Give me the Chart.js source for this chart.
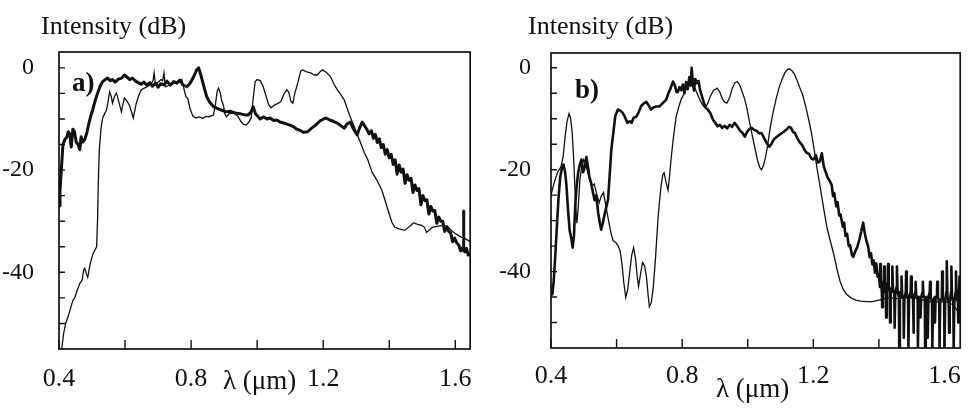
<!DOCTYPE html>
<html>
<head>
<meta charset="utf-8">
<script src="https://cdn.jsdelivr.net/npm/chart.js@4.4.0/dist/chart.umd.min.js"></script>
<style>
  body { margin: 0; background: #fff; width: 974px; height: 411px; overflow: hidden; position: relative; }
  canvas { position: absolute; top: 0; }
  .txt { position: absolute; font-family: 'Liberation Serif', 'DejaVu Serif', serif; color: #111; white-space: nowrap; line-height: 1; }
  .lbl { font-size: 26px; }
  .unit { font-size: 27px; }
  .tag { font-size: 27px; font-weight: bold; }
</style>
</head>
<body>
<canvas id="chartA" width="487" height="411" style="left:0"></canvas>
<canvas id="chartB" width="487" height="411" style="left:487px"></canvas>

<div class="txt lbl" style="left:41px; top:13px">Intensity (dB)</div>
<div class="txt lbl" style="left:528px; top:13px">Intensity (dB)</div>
<div class="txt unit" style="left:223px; top:367px">λ (μm)</div>
<div class="txt unit" style="left:716px; top:375px">λ (μm)</div>
<div class="txt tag" style="left:72px; top:69px">a)</div>
<div class="txt tag" style="left:575px; top:76px">b)</div>

<script>
// axis ticks (wavelength in um, intensity in dB)
const xTickValues = [0.4, 0.6, 0.8, 1.0, 1.2, 1.4, 1.6];
const xTickLabels = [0.4, 0.8, 1.2, 1.6];
const yTickValues = [-50, -45, -40, -35, -30, -25, -20, -15, -10, -5, 0];
const yTickLabels = [0, -20, -40];

// panel a) measured spectrum (thick, noisy)
const aThick = [
  [0.400,-27],[0.403,-24],[0.407,-20],[0.412,-15],[0.418,-14],[0.424,-13.5],[0.428,-12.5],[0.433,-13],
  [0.437,-15.5],[0.442,-12],[0.447,-12.5],[0.452,-14.5],[0.458,-15],[0.463,-16],[0.467,-13.5],[0.472,-14.5],
  [0.478,-14],[0.484,-12.8],[0.490,-11],[0.496,-9.5],[0.502,-8.2],[0.510,-6.3],[0.517,-4.9],[0.525,-3.5],
  [0.532,-2.7],[0.540,-2.3],[0.547,-2.0],[0.555,-2.5],[0.562,-2.3],[0.570,-2.8],[0.580,-2.2],[0.590,-2.0],
  [0.598,-1.4],[0.606,-1.8],[0.614,-2.3],[0.622,-2.0],[0.632,-2.6],[0.640,-2.9],[0.649,-3.2],[0.657,-2.8],
  [0.666,-3.4],[0.675,-2.9],[0.683,-3.6],[0.692,-3.0],[0.700,-3.8],[0.708,-3.1],[0.718,-3.3],[0.727,-2.6],
  [0.737,-3.4],[0.747,-2.7],[0.757,-3.0],[0.766,-2.4],[0.775,-3.3],[0.787,-3.7],[0.797,-3.0],[0.808,-1.7],
  [0.817,-0.4],[0.823,0],[0.830,-1.5],[0.838,-3.5],[0.847,-5.6],[0.857,-6.8],[0.868,-7.6],[0.878,-7.9],
  [0.889,-8.2],[0.898,-8.4],[0.907,-8.6],[0.920,-8.5],[0.937,-8.9],[0.950,-9.0],[0.963,-9.2],[0.973,-9.2],
  [0.982,-8.6],[0.988,-7.6],[0.995,-9.0],[1.009,-10.0],[1.020,-9.6],[1.030,-10.0],[1.039,-9.8],[1.050,-10.3],
  [1.060,-10.2],[1.069,-10.6],[1.080,-10.8],[1.090,-11.0],[1.099,-11.2],[1.110,-11.5],[1.120,-12.0],[1.129,-12.2],
  [1.140,-12.6],[1.153,-12.5],[1.165,-11.8],[1.177,-11.2],[1.190,-10.4],[1.207,-9.8],[1.220,-10.2],[1.232,-10.5],
  [1.243,-10.8],[1.255,-11.4],[1.264,-11.8],[1.272,-11.0],[1.282,-10.6],[1.292,-12.0],[1.303,-13.1],[1.310,-11.8],
  [1.318,-10.6],[1.325,-11.3],[1.332,-12.0],[1.339,-12.9],[1.346,-12.3],[1.352,-13.8],[1.358,-13.0],[1.364,-14.6],
  [1.370,-13.9],[1.376,-15.6],[1.382,-15.0],[1.388,-16.9],[1.394,-16.0],[1.400,-17.6],[1.406,-16.9],[1.412,-18.9],
  [1.418,-18.0],[1.424,-20.8],[1.430,-19.0],[1.436,-20.4],[1.442,-19.8],[1.448,-22.6],[1.454,-20.9],[1.460,-22.0],
  [1.466,-21.6],[1.472,-24.4],[1.478,-22.9],[1.484,-24.0],[1.490,-23.6],[1.496,-26.8],[1.502,-25.0],[1.508,-26.0],
  [1.514,-25.8],[1.520,-28.6],[1.526,-27.1],[1.532,-28.0],[1.538,-27.9],[1.544,-30.4],[1.550,-29.2],[1.556,-30.0],
  [1.562,-30.0],[1.568,-32.0],[1.574,-31.2],[1.580,-32.0],[1.586,-32.3],[1.592,-34.0],[1.598,-33.3],[1.604,-34.2],
  [1.610,-34.6],[1.616,-35.8],[1.622,-35.2],[1.624,-35.6],[1.625,-28.0],[1.626,-35.8],[1.629,-36.0],[1.634,-35.3],
  [1.639,-36.6],[1.645,-36.4]
];

// panel a) calculated spectrum (thin)
const aThin = [
  [0.408,-55],[0.414,-52],[0.420,-50],[0.427,-48.8],[0.435,-47],[0.442,-45.5],[0.448,-44.9],[0.455,-43.5],
  [0.463,-42.2],[0.470,-41.5],[0.475,-39.5],[0.478,-39.2],[0.484,-40.5],[0.487,-41],[0.494,-38.5],[0.502,-36.5],
  [0.510,-35.5],[0.514,-35],[0.517,-29.2],[0.519,-22.5],[0.522,-16.1],[0.527,-12],[0.532,-9.8],[0.538,-9],
  [0.544,-8.2],[0.549,-6.5],[0.553,-4.7],[0.558,-5.5],[0.562,-6.9],[0.568,-5.6],[0.574,-4.9],[0.581,-6.6],
  [0.589,-8.6],[0.594,-7],[0.598,-5.9],[0.606,-6.5],[0.613,-7.3],[0.619,-8.5],[0.625,-9.8],[0.630,-8.2],
  [0.634,-6.9],[0.641,-5.5],[0.649,-4.3],[0.657,-4.0],[0.667,-3.7],[0.678,-3.2],[0.685,-2.5],[0.688,-1.0],
  [0.692,-3.2],[0.700,-2.8],[0.709,-2.3],[0.714,-2.5],[0.718,-1.0],[0.722,-3.7],[0.733,-3.4],[0.748,-3.0],
  [0.760,-2.6],[0.772,-2.3],[0.778,-4.0],[0.784,-5.6],[0.790,-6.0],[0.797,-8.0],[0.805,-9.4],[0.814,-9.8],
  [0.825,-9.6],[0.835,-9.9],[0.845,-9.5],[0.853,-9.6],[0.862,-9.4],[0.868,-9.2],[0.874,-7.0],[0.879,-4.6],
  [0.883,-4.0],[0.888,-4.8],[0.893,-6.5],[0.898,-7.3],[0.902,-9.0],[0.907,-9.6],[0.915,-9.0],[0.928,-8.8],
  [0.942,-9.5],[0.952,-10.6],[0.958,-11.0],[0.967,-11.2],[0.975,-10.6],[0.982,-9.8],[0.988,-6.0],[0.994,-2.7],
  [1.000,-2.3],[1.009,-2.5],[1.018,-3.6],[1.027,-5.5],[1.035,-7.2],[1.042,-7.8],[1.052,-7.3],[1.062,-7.0],
  [1.072,-6.6],[1.082,-5.0],[1.090,-4.3],[1.096,-4.8],[1.102,-6.5],[1.108,-6.9],[1.114,-5.0],[1.123,-3.0],
  [1.132,-0.6],[1.138,-0.4],[1.150,-0.8],[1.162,-1.0],[1.173,-1.4],[1.183,-1.4],[1.190,-0.8],[1.198,-0.4],
  [1.210,-0.9],[1.222,-1.7],[1.233,-3.2],[1.243,-4.3],[1.254,-5.3],[1.264,-6.3],[1.273,-8.0],[1.282,-9.6],
  [1.292,-11.2],[1.303,-13.0],[1.314,-14.8],[1.324,-16.5],[1.335,-18.0],[1.348,-20.4],[1.363,-22.0],[1.378,-24.0],
  [1.390,-26.5],[1.399,-28.4],[1.408,-30.2],[1.417,-31.2],[1.430,-31.5],[1.447,-31.8],[1.462,-31.0],[1.474,-30.3],
  [1.486,-30.6],[1.498,-30.8],[1.507,-31.2],[1.513,-32.2],[1.520,-31.8],[1.530,-31.2],[1.545,-31.0],[1.560,-30.8],
  [1.575,-30.9],[1.588,-31.8],[1.600,-32.4],[1.618,-33.1],[1.630,-33.4],[1.645,-34]
];

// panel b) measured spectrum (thick, noisy tail with narrow spikes)
const bThick = [
  [0.400,-43],[0.404,-44.5],[0.408,-42],[0.413,-37],[0.418,-31],[0.423,-25.5],[0.428,-21.5],[0.433,-19.8],
  [0.438,-19.0],[0.443,-20.5],[0.447,-23],[0.452,-28],[0.457,-32],[0.462,-33.5],[0.466,-35.3],[0.470,-33],
  [0.474,-27],[0.478,-23.3],[0.483,-20.5],[0.488,-19],[0.493,-18],[0.498,-20.5],[0.503,-19.5],[0.508,-17.5],
  [0.513,-19.5],[0.517,-21.4],[0.522,-22.5],[0.528,-24.5],[0.533,-26],[0.538,-25],[0.544,-28.5],[0.549,-30.5],
  [0.553,-31.8],[0.558,-30.5],[0.562,-29.2],[0.568,-27.5],[0.574,-25.9],[0.579,-21],[0.584,-16],[0.590,-12.8],
  [0.596,-9.5],[0.604,-8.2],[0.611,-8.4],[0.618,-8.8],[0.625,-9.6],[0.633,-10.8],[0.640,-10.5],[0.646,-10.8],
  [0.652,-9.8],[0.660,-9.6],[0.667,-8.8],[0.675,-7.5],[0.683,-7.0],[0.691,-6.7],[0.698,-7.4],[0.705,-8.2],
  [0.712,-7.8],[0.720,-7.6],[0.730,-7.6],[0.740,-7.0],[0.751,-6.3],[0.758,-5.0],[0.765,-4.0],[0.772,-2.7],
  [0.778,-3.5],[0.783,-4.8],[0.787,-4.7],[0.792,-3.8],[0.797,-4.4],[0.802,-3.3],[0.807,-5.0],[0.812,-2.8],
  [0.817,-4.2],[0.822,-1.8],[0.826,-3.5],[0.829,0],[0.832,-2.5],[0.836,-4.5],[0.840,-2.2],[0.845,-3.0],
  [0.850,-2.6],[0.855,-4.5],[0.860,-5.5],[0.866,-6.8],[0.871,-7.8],[0.878,-8.2],[0.886,-8.9],[0.894,-10.2],
  [0.901,-10.8],[0.908,-11.5],[0.915,-11.2],[0.922,-11.8],[0.930,-11.4],[0.937,-11.9],[0.945,-11.2],[0.952,-11.6],
  [0.960,-10.8],[0.968,-11.5],[0.976,-12.3],[0.984,-12.8],[0.991,-13.5],[0.998,-12.6],[1.005,-12.0],[1.012,-11.8],
  [1.020,-12.2],[1.028,-12.4],[1.035,-12.9],[1.042,-12.8],[1.050,-13.8],[1.058,-14.8],[1.066,-15.5],[1.072,-15.0],
  [1.080,-14.0],[1.090,-13.5],[1.100,-13.0],[1.111,-12.5],[1.120,-12.0],[1.126,-11.6],[1.132,-11.8],[1.138,-12.6],
  [1.144,-12.8],[1.150,-13.7],[1.158,-14.6],[1.166,-15.2],[1.174,-16.2],[1.180,-16.7],[1.187,-16.9],[1.194,-17.8],
  [1.201,-18.0],[1.208,-17.2],[1.214,-18.6],[1.220,-18.4],[1.226,-16.8],[1.232,-19.4],[1.238,-20.5],[1.244,-21.6],
  [1.250,-22.2],[1.256,-23.0],[1.260,-25.2],[1.264,-24.6],[1.270,-27.2],[1.274,-26.4],[1.279,-29.0],[1.283,-28.8],
  [1.290,-31.2],[1.294,-30.4],[1.298,-33.0],[1.303,-32.6],[1.308,-35.0],[1.312,-34.8],[1.318,-36.8],[1.322,-37.1],
  [1.328,-36.0],[1.334,-35.2],[1.340,-33.8],[1.346,-32.2],[1.352,-30.4],[1.357,-32.5],[1.362,-34.0],[1.367,-35.0],
  [1.372,-37.2],[1.376,-36.4],[1.380,-38.6],[1.384,-37.8],[1.388,-40.2],[1.392,-38.4],[1.396,-41.0],[1.400,-40.5],
  [1.403,-43],[1.404,-38.5],[1.406,-42],[1.409,-44],[1.410,-47],[1.412,-42],[1.415,-43],[1.416,-39],
  [1.418,-44],[1.421,-43],[1.422,-49],[1.424,-43],[1.427,-42],[1.428,-38.5],[1.430,-43],[1.433,-44],
  [1.434,-50],[1.436,-44],[1.440,-43],[1.441,-39],[1.443,-44],[1.447,-44],[1.448,-51],[1.450,-44],
  [1.454,-43],[1.455,-39],[1.457,-44],[1.461,-45],[1.462,-55],[1.464,-44],[1.468,-44],[1.469,-41],
  [1.471,-45],[1.475,-45],[1.476,-53],[1.478,-45],[1.482,-44],[1.483,-40],[1.485,-45],[1.489,-45],
  [1.490,-55],[1.492,-45],[1.497,-44],[1.498,-41],[1.500,-45],[1.504,-45],[1.505,-52],[1.507,-45],
  [1.511,-44],[1.512,-42],[1.514,-45],[1.518,-45],[1.519,-55],[1.521,-45],[1.526,-45],[1.527,-49],
  [1.529,-45],[1.533,-44],[1.534,-42],[1.536,-45],[1.540,-45],[1.541,-55],[1.543,-45],[1.548,-45],
  [1.549,-53],[1.551,-45],[1.555,-44],[1.556,-42],[1.558,-45],[1.562,-46],[1.563,-55],[1.565,-46],
  [1.570,-45],[1.571,-50],[1.573,-45],[1.577,-45],[1.578,-42],[1.580,-45],[1.584,-46],[1.585,-55],
  [1.587,-46],[1.592,-45],[1.593,-40],[1.595,-45],[1.599,-46],[1.600,-55],[1.602,-46],[1.606,-44],
  [1.607,-38],[1.609,-45],[1.613,-46],[1.614,-52],[1.616,-46],[1.620,-44],[1.621,-39],[1.623,-45],
  [1.627,-46],[1.628,-55],[1.630,-46],[1.634,-44],[1.635,-40],[1.637,-45],[1.641,-46],[1.642,-50],
  [1.644,-45],[1.646,-41],[1.648,-43]
];

// panel b) calculated spectrum (thin)
const bThin = [
  [0.400,-25.0],[0.410,-22.5],[0.420,-20.5],[0.430,-19.5],[0.437,-17.5],[0.443,-13.5],[0.449,-10.5],[0.455,-9.0],
  [0.460,-10.0],[0.465,-13.0],[0.470,-19.0],[0.475,-27.0],[0.479,-30.5],[0.483,-27.5],[0.488,-22.0],[0.494,-19.2],
  [0.500,-18.0],[0.506,-18.8],[0.512,-20.5],[0.518,-22.0],[0.525,-23.2],[0.532,-22.8],[0.540,-25.0],[0.547,-26.5],
  [0.553,-25.2],[0.560,-24.5],[0.567,-27.0],[0.575,-29.8],[0.583,-32.5],[0.590,-34.0],[0.598,-34.3],[0.605,-35.0],
  [0.611,-36.0],[0.617,-38.8],[0.622,-42.2],[0.628,-45.1],[0.634,-43.5],[0.640,-40.2],[0.646,-36.8],[0.652,-35.3],
  [0.658,-37.5],[0.663,-41.0],[0.667,-42.9],[0.673,-40.5],[0.679,-38.2],[0.685,-38.8],[0.691,-41.0],[0.696,-44.5],
  [0.700,-46.9],[0.706,-46.0],[0.712,-43.0],[0.718,-38.0],[0.723,-33.0],[0.727,-29.0],[0.732,-25.5],[0.736,-23.0],
  [0.741,-21.0],[0.745,-20.6],[0.751,-22.5],[0.757,-24.0],[0.762,-21.0],[0.766,-18.0],[0.771,-15.0],[0.775,-12.8],
  [0.782,-9.5],[0.790,-7.6],[0.797,-6.2],[0.805,-5.2],[0.812,-3.8],[0.820,-3.0],[0.826,-2.6],[0.832,-2.4],
  [0.838,-3.8],[0.844,-4.8],[0.850,-5.7],[0.858,-6.8],[0.865,-7.5],[0.871,-7.8],[0.878,-7.0],[0.886,-5.6],
  [0.896,-4.4],[0.907,-4.0],[0.915,-4.8],[0.922,-6.0],[0.930,-6.8],[0.937,-6.9],[0.945,-5.8],[0.952,-4.2],
  [0.960,-3.0],[0.968,-2.7],[0.975,-3.3],[0.982,-4.5],[0.990,-6.0],[0.997,-7.8],[1.005,-10.5],[1.013,-13.0],
  [1.021,-15.5],[1.030,-18.2],[1.037,-19.6],[1.042,-20.0],[1.048,-19.2],[1.054,-17.6],[1.060,-15.5],[1.068,-12.0],
  [1.077,-8.8],[1.087,-6.0],[1.096,-3.8],[1.105,-2.2],[1.113,-1.0],[1.120,-0.4],[1.127,-0.2],[1.135,-0.6],
  [1.142,-1.2],[1.150,-2.4],[1.158,-3.8],[1.167,-5.2],[1.176,-7.4],[1.186,-10.2],[1.195,-13.0],[1.203,-16.2],
  [1.212,-20.0],[1.222,-23.8],[1.232,-27.8],[1.242,-31.5],[1.252,-34.0],[1.262,-36.5],[1.272,-39.5],[1.282,-42.0],
  [1.292,-43.6],[1.302,-44.5],[1.316,-45.2],[1.330,-45.6],[1.345,-45.8],[1.361,-45.9],[1.380,-45.9],[1.400,-45.6],
  [1.420,-45.3],[1.433,-45.1],[1.450,-45.3],[1.470,-45.2],[1.490,-45.1],[1.511,-45.2],[1.530,-45.5],[1.545,-45.8],
  [1.562,-46.0],[1.580,-46.0],[1.600,-45.9],[1.613,-46.1],[1.625,-46.5],[1.635,-47.3],[1.643,-48.0],[1.648,-48.4]
];

const ink = '#111';
const serif = "'Liberation Serif', 'DejaVu Serif', serif";

// frame + inward tick marks, drawn from the scales
const frameTicks = {
  id: 'frameTicks',
  afterDraw(chart) {
    const { ctx, chartArea: a, scales } = chart;
    ctx.save();
    ctx.strokeStyle = ink;
    ctx.lineWidth = 1.7;
    ctx.strokeRect(a.left, a.top, a.right - a.left, a.bottom - a.top);
    ctx.lineWidth = 1.4;
    ctx.beginPath();
    scales.y.ticks.forEach(t => {
      const py = scales.y.getPixelForValue(t.value);
      ctx.moveTo(a.left, py);
      ctx.lineTo(a.left + 6, py);
    });
    scales.x.ticks.forEach(t => {
      const px = scales.x.getPixelForValue(t.value);
      ctx.moveTo(px, a.bottom);
      ctx.lineTo(px, a.bottom - 9);
    });
    ctx.stroke();
    ctx.restore();
  }
};

function makeChart(id, thick, thin, geo) {
  const toPts = arr => arr.map(p => ({ x: p[0], y: p[1] }));
  return new Chart(document.getElementById(id), {
    type: 'line',
    data: {
      datasets: [
        { data: toPts(thin), borderColor: ink, borderWidth: 1.3, pointRadius: 0, tension: 0 },
        { data: toPts(thick), borderColor: ink, borderWidth: geo.thickW, pointRadius: 0, tension: 0,
          borderJoinStyle: 'round' },
      ],
    },
    options: {
      responsive: false,
      animation: false,
      events: [],
      layout: { padding: { top: geo.top, right: geo.right, left: 0, bottom: 0 } },
      plugins: { legend: { display: false }, tooltip: { enabled: false } },
      scales: {
        x: {
          type: 'linear',
          min: 0.4,
          max: geo.xMax,
          afterFit: s => { s.height = geo.xHeight; },
          afterBuildTicks: s => { s.ticks = xTickValues.map(v => ({ value: v })); },
          grid: { display: false, drawTicks: false },
          border: { display: false },
          ticks: {
            autoSkip: false,
            maxRotation: 0,
            padding: geo.xPad,
            color: ink,
            font: { family: serif, size: 26 },
            callback: v => (xTickLabels.some(l => Math.abs(l - v) < 1e-6) ? v.toFixed(1) : ''),
          },
        },
        y: {
          min: -55,
          max: geo.yMax,
          afterFit: s => { s.width = geo.yWidth; },
          afterBuildTicks: s => { s.ticks = yTickValues.map(v => ({ value: v })); },
          grid: { display: false, drawTicks: false },
          border: { display: false },
          ticks: {
            autoSkip: false,
            padding: geo.yPad,
            color: ink,
            font: { family: serif, size: 24 },
            callback: v => (yTickLabels.includes(v) ? String(v) : ''),
          },
        },
      },
    },
    plugins: [frameTicks],
  });
}

makeChart('chartA', aThick, aThin, { top: 52, right: 13, xMax: 1.645, yMax: 3.1, xHeight: 62, yWidth: 59, xPad: 15, yPad: 25, thickW: 3 });
makeChart('chartB', bThick, bThin, { top: 53, right: 7, xMax: 1.648, yMax: 2.9, xHeight: 63, yWidth: 64, xPad: 13, yPad: 20, thickW: 2.6 });
</script>
</body>
</html>
